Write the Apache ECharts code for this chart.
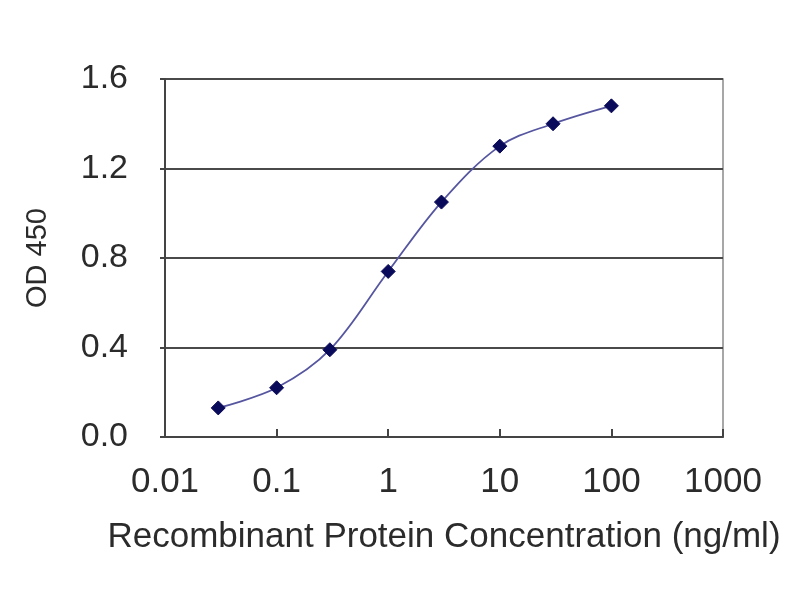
<!DOCTYPE html>
<html>
<head>
<meta charset="utf-8">
<script src="https://cdn.jsdelivr.net/npm/echarts@6/dist/echarts.min.js"></script>
<style>
  html, body { margin: 0; padding: 0; background: #fff; }
  #chart { width: 800px; height: 600px; }
</style>
</head>
<body>
<div id="chart"></div>
<script>
// concentration (ng/ml) and OD 450 readings
const concList = [0.03, 0.1, 0.3, 1, 3, 10, 30, 100];
const odList = [0.13, 0.22, 0.39, 0.74, 1.05, 1.30, 1.40, 1.48];
const xTicks = [0.01, 0.1, 1, 10, 100, 1000];
const yTicks = [0, 0.4, 0.8, 1.2, 1.6];

const xName = 'Recombinant Protein Concentration (ng/ml)';
const yName = 'OD 450';

let myChart = echarts.init(document.getElementById('chart'));
let fontColor = '#2b2b2b';
let fontFamily = 'Liberation Sans, Arial, sans-serif';

let option = {
  animation: false,
  backgroundColor: '#fff',
  grid: {
    left: 165,
    right: 77,
    top: 79,
    bottom: 163,
    show: true,
    borderColor: '#8a8a8a',
    borderWidth: 1.5,
    backgroundColor: '#fff'
  },
  xAxis: {
    type: 'log',
    logBase: 10,
    min: xTicks[0],
    max: xTicks[xTicks.length - 1],
    name: xName,
    nameLocation: 'middle',
    nameGap: 83,
    nameTextStyle: {
      color: fontColor,
      fontSize: 35,
      fontFamily: fontFamily
    },
    axisLine: {
      show: true,
      lineStyle: { color: '#444', width: 2 }
    },
    axisTick: {
      show: true,
      inside: true,
      length: 8,
      lineStyle: { color: '#444', width: 2 }
    },
    axisLabel: {
      margin: 28,
      color: fontColor,
      fontSize: 35,
      fontFamily: fontFamily,
      formatter: function (v) {
        return String(parseFloat(v.toPrecision(6)));
      }
    },
    splitLine: { show: false },
    minorTick: { show: false }
  },
  yAxis: {
    type: 'value',
    min: yTicks[0],
    max: yTicks[yTicks.length - 1],
    interval: 0.4,
    name: yName,
    nameLocation: 'middle',
    nameGap: 113,
    nameTextStyle: {
      color: fontColor,
      fontSize: 29,
      fontFamily: fontFamily
    },
    axisLine: {
      show: true,
      lineStyle: { color: '#444', width: 2 }
    },
    axisTick: {
      show: true,
      length: 5,
      lineStyle: { color: '#444', width: 2 }
    },
    axisLabel: {
      margin: 37,
      color: fontColor,
      fontSize: 34,
      fontFamily: fontFamily,
      formatter: function (v) {
        return v.toFixed(1);
      }
    },
    splitLine: {
      show: true,
      lineStyle: { color: '#4a4a4a', width: 2 }
    }
  },
  series: [{
    name: yName,
    type: 'line',
    smooth: 0.35,
    symbol: 'diamond',
    symbolSize: 14,
    itemStyle: {
      color: '#0a0a5a',
      borderColor: '#0a0a5a',
      borderWidth: 1
    },
    lineStyle: {
      color: '#5656a0',
      width: 1.8
    },
    data: concList.map(function (c, i) { return [c, odList[i]]; })
  }]
};

myChart.setOption(option);
</script>
</body>
</html>
